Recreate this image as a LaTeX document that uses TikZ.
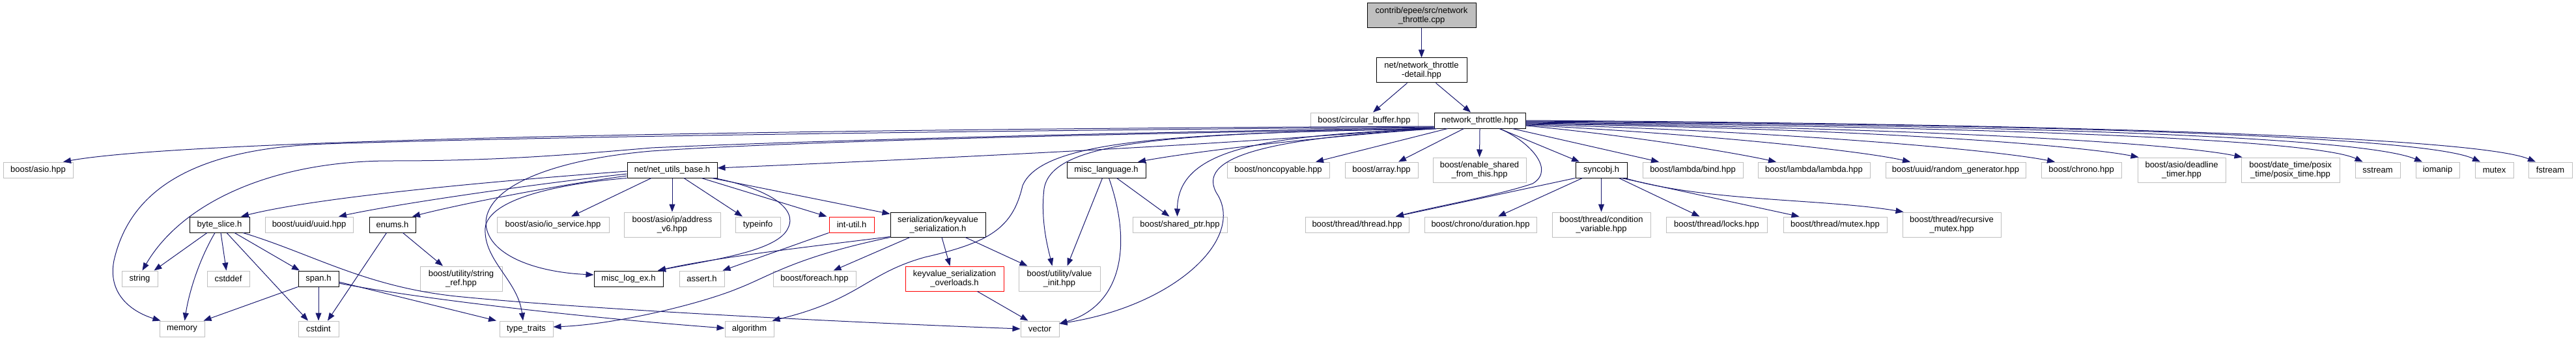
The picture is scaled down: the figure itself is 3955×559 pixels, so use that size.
\documentclass[tikz,border=0pt]{standalone}
\usepackage{fontspec}
\setmainfont{Liberation Sans}
\usetikzlibrary{arrows.meta}
\definecolor{edgeblue}{HTML}{191970}
\definecolor{grayline}{HTML}{BFBFBF}
\definecolor{rootfill}{HTML}{BFBFBF}
\tikzset{
  box/.style={draw, line width=1pt, inner sep=0pt, align=center, font=\fontsize{13}{14.5}\selectfont},
  hdr/.style={box, draw=black},
  ext/.style={box, draw=grayline},
  trunc/.style={box, draw=red},
  root/.style={box, draw=black, fill=rootfill},
  sz/.style 2 args={minimum width=#1pt, minimum height=#2pt},
  dep/.style={draw=edgeblue, line width=1pt, -{Triangle[length=12pt,width=9pt]}},
}
\begin{document}
\begin{tikzpicture}[x=1pt,y=-1pt]
\useasboundingbox (0,0) rectangle (3955,559);
% ---- nodes ----
\node[root, sz={167}{38}] (cpp) at (2182.5,24) {contrib/epee/src/network\\\_throttle.cpp};
\node[hdr, sz={139}{38}] (detail) at (2182.5,108) {net/network\_throttle\\-detail.hpp};
\node[ext, sz={165}{24}] (circbuf) at (2094.5,185) {boost/circular\_buffer.hpp};
\node[hdr, sz={140}{24}] (nthrottle) at (2272,185) {network\_throttle.hpp};
% row 3
\node[ext, sz={107}{24}] (asio) at (58.5,261) {boost/asio.hpp};
\node[hdr, sz={138}{24}] (netutils) at (1032,261) {net/net\_utils\_base.h};
\node[hdr, sz={121}{24}] (misclang) at (1698.5,261) {misc\_language.h};
\node[ext, sz={157}{24}] (noncopy) at (1962.5,261) {boost/noncopyable.hpp};
\node[ext, sz={112}{24}] (array) at (2121,261) {boost/array.hpp};
\node[ext, sz={143}{38}] (enable) at (2271.5,261) {boost/enable\_shared\\\_from\_this.hpp};
\node[hdr, sz={79}{24}] (syncobj) at (2458.5,261) {syncobj.h};
\node[ext, sz={154}{24}] (bind) at (2599,261) {boost/lambda/bind.hpp};
\node[ext, sz={172}{24}] (lambda) at (2785,261) {boost/lambda/lambda.hpp};
\node[ext, sz={215}{24}] (randgen) at (3002.5,261) {boost/uuid/random\_generator.hpp};
\node[ext, sz={123}{24}] (chrono) at (3195.5,261) {boost/chrono.hpp};
\node[ext, sz={135}{38}] (deadline) at (3349.5,261) {boost/asio/deadline\\\_timer.hpp};
\node[ext, sz={151}{38}] (posix) at (3516.5,261) {boost/date\_time/posix\\\_time/posix\_time.hpp};
\node[ext, sz={69}{24}] (sstream) at (3650.5,261) {sstream};
\node[ext, sz={67}{24}] (iomanip) at (3742.5,261) {iomanip};
\node[ext, sz={59}{24}] (mutexstd) at (3829.5,261) {mutex};
\node[ext, sz={67}{24}] (fstream) at (3915.5,261) {fstream};
% row 4
\node[hdr, sz={92}{24}] (byteslice) at (337,345) {byte\_slice.h};
\node[ext, sz={135}{24}] (uuid) at (474.5,345) {boost/uuid/uuid.hpp};
\node[hdr, sz={71}{24}] (enums) at (602.5,345) {enums.h};
\node[ext, sz={172}{24}] (ioservice) at (849,345) {boost/asio/io\_service.hpp};
\node[ext, sz={148}{38}] (addrv6) at (1032,345) {boost/asio/ip/address\\\_v6.hpp};
\node[ext, sz={69}{24}] (typeinfo) at (1163.5,345) {typeinfo};
\node[trunc, sz={69}{24}] (intutil) at (1307.5,345) {int-util.h};
\node[hdr, sz={146}{38}] (kvser) at (1440,345) {serialization/keyvalue\\\_serialization.h};
\node[ext, sz={145}{24}] (sharedptr) at (1811.5,345) {boost/shared\_ptr.hpp};
\node[ext, sz={159}{24}] (thread) at (2083.5,345) {boost/thread/thread.hpp};
\node[ext, sz={172}{24}] (duration) at (2273,345) {boost/chrono/duration.hpp};
\node[ext, sz={151}{38}] (condvar) at (2458.5,345) {boost/thread/condition\\\_variable.hpp};
\node[ext, sz={155}{24}] (locks) at (2635.5,345) {boost/thread/locks.hpp};
\node[ext, sz={159}{24}] (mutexhpp) at (2817.5,345) {boost/thread/mutex.hpp};
\node[ext, sz={151}{38}] (recmutex) at (2996.5,345) {boost/thread/recursive\\\_mutex.hpp};
% row 5
\node[ext, sz={55}{24}] (string) at (214.5,428) {string};
\node[ext, sz={65}{24}] (cstddef) at (350.5,428) {cstddef};
\node[hdr, sz={62}{24}] (span) at (489,428) {span.h};
\node[ext, sz={126}{38}] (stringref) at (708,428) {boost/utility/string\\\_ref.hpp};
\node[hdr, sz={106}{24}] (misclog) at (965,428) {misc\_log\_ex.h};
\node[ext, sz={69}{24}] (assert) at (1077.5,428) {assert.h};
\node[ext, sz={127}{24}] (foreach) at (1250.5,428) {boost/foreach.hpp};
\node[trunc, sz={151}{38}] (kvover) at (1465.5,428) {keyvalue\_serialization\\\_overloads.h};
\node[ext, sz={125}{38}] (valueinit) at (1626.5,428) {boost/utility/value\\\_init.hpp};
% row 6
\node[ext, sz={69}{24}] (memory) at (279.5,505) {memory};
\node[ext, sz={62}{24}] (cstdint) at (489,505) {cstdint};
\node[ext, sz={82}{24}] (typetraits) at (808,505) {type\_traits};
\node[ext, sz={75}{24}] (algorithm) at (1150.5,505) {algorithm};
\node[ext, sz={59}{24}] (vector) at (1596.5,505) {vector};

% ---- edges ----
\draw[dep] (cpp.south) -- (detail.north);
\draw[dep] ([xshift=-22pt]detail.south) -- ([xshift=13.5pt]circbuf.north);
\draw[dep] ([xshift=22pt]detail.south) -- ([xshift=-14pt]nthrottle.north);

% network_throttle.hpp, leftwards
\draw[dep] ([yshift=-9pt]nthrottle.west) .. controls (1300,198) and (300,212) .. ([xshift=38.5pt]asio.north);
\draw[dep] ([yshift=-10pt]nthrottle.west) .. controls (1600,200) and (900,208) .. (500,221)
   .. controls (300,228) and (200,290) .. (175,400)
   .. controls (165,450) and (200,478) .. ([xshift=2pt]memory.north west);
\draw[dep] ([yshift=-11pt]nthrottle.west) .. controls (1600,205) and (1150,220) .. (1000,227)
   .. controls (850,240) and (750,247) .. (600,247)
   .. controls (420,247) and (280,310) .. ([xshift=4pt]string.north);
\draw[dep] ([yshift=-10pt]nthrottle.west) .. controls (1900,222) and (1400,245) .. ([yshift=3pt]netutils.east);
\draw[dep] ([xshift=4pt]nthrottle.south west) .. controls (2050,208) and (1850,230) .. ([xshift=48.5pt]misclang.north);
\draw[dep] ([xshift=21pt]nthrottle.south west) -- ([xshift=57.5pt]noncopy.north);
\draw[dep] ([xshift=46pt]nthrottle.south west) -- ([xshift=26pt]array.north);
\draw[dep] (nthrottle.south) -- (enable.north);
\draw[dep] ([xshift=30pt]nthrottle.south) -- ([xshift=-33.5pt]syncobj.north);
\draw[dep] ([xshift=30pt]nthrottle.south) .. controls (2345,215) and (2390,260) .. (2353,282)
   .. controls (2300,300) and (2200,318) .. ([xshift=59.5pt]thread.north);
\draw[dep] ([xshift=2pt]nthrottle.south west) .. controls (1800,205) and (1615,215) .. (1603,290)
   .. controls (1597,340) and (1610,385) .. ([xshift=-11pt]valueinit.north);
\draw[dep] ([xshift=2pt]nthrottle.south west) .. controls (1950,208) and (1808,225) .. ([xshift=-4pt]sharedptr.north);
\draw[dep] ([xshift=3pt]nthrottle.south west) .. controls (1950,212) and (1830,240) .. (1870,300)
   .. controls (1910,370) and (1800,470) .. ([yshift=8pt]vector.east);
\draw[dep] ([xshift=3pt]nthrottle.south west) .. controls (1800,205) and (1600,215) .. (1570,285)
   .. controls (1555,350) and (1520,372) .. (1420,395)
   .. controls (1330,420) and (1320,460) .. ([xshift=-3pt]algorithm.north east);
\draw[dep] ([xshift=4pt]nthrottle.south west) .. controls (1700,205) and (1200,218) .. (1000,232)
   .. controls (850,245) and (750,285) .. (746,340)
   .. controls (745,390) and (820,418) .. ([yshift=6pt]misclog.west);

% network_throttle.hpp, rightwards
\draw[dep] ([xshift=50pt]nthrottle.south) -- ([xshift=-52pt]bind.north);
\draw[dep] ([yshift=-8pt]nthrottle.east) .. controls (2500,208) and (2650,232) .. ([xshift=-58pt]lambda.north);
\draw[dep] ([yshift=-7pt]nthrottle.east) .. controls (2600,205) and (2850,230) .. ([xshift=-69.5pt]randgen.north);
\draw[dep] ([yshift=-6pt]nthrottle.east) .. controls (2700,200) and (3050,228) .. ([xshift=-40.5pt]chrono.north);
\draw[dep] ([yshift=-5pt]nthrottle.east) .. controls (2900,198) and (3200,225) .. ([xshift=2pt]deadline.north west);
\draw[dep] ([yshift=-4pt]nthrottle.east) .. controls (3000,197) and (3350,222) .. ([xshift=2pt]posix.north west);
\draw[dep] ([yshift=-3pt]nthrottle.east) .. controls (3000,194) and (3550,212) .. ([xshift=-23pt]sstream.north);
\draw[dep] ([yshift=-2pt]nthrottle.east) .. controls (3050,192) and (3620,208) .. ([xshift=-23.5pt]iomanip.north);
\draw[dep] ([yshift=-1pt]nthrottle.east) .. controls (3100,190) and (3720,208) .. ([xshift=-21.5pt]mutexstd.north);
\draw[dep] (nthrottle.east) .. controls (3150,190) and (3800,210) .. ([xshift=-22.5pt]fstream.north);

% net_utils_base.h
\draw[dep] ([yshift=-2pt]netutils.west) .. controls (800,275) and (500,300) .. ([xshift=33pt]byteslice.north);
\draw[dep] ([yshift=-6pt]netutils.west) .. controls (800,285) and (600,315) .. ([xshift=45.5pt]uuid.north);
\draw[dep] ([yshift=-9pt]netutils.west) .. controls (850,285) and (700,315) .. ([xshift=30.5pt]enums.north);
\draw[dep] ([xshift=-32pt]netutils.south) -- ([xshift=28pt]ioservice.north);
\draw[dep] (netutils.south) -- (addrv6.north);
\draw[dep] ([xshift=18pt]netutils.south) -- ([xshift=-23.5pt]typeinfo.north);
\draw[dep] ([xshift=45pt]netutils.south) -- ([xshift=-3pt]intutil.north west);
\draw[dep] ([xshift=61pt]netutils.south) -- ([yshift=-3pt]kvser.north west);
\draw[dep] ([xshift=65pt]netutils.south) .. controls (1180,290) and (1225,320) .. (1210,350)
   .. controls (1195,385) and (1100,398) .. ([xshift=45pt]misclog.north);
\draw[dep] (netutils.south west) .. controls (860,282) and (750,305) .. (745,350)
   .. controls (742,400) and (795,430) .. ([xshift=-5pt]typetraits.north);

% serialization/keyvalue_serialization.h
\draw[dep] ([yshift=1pt]kvser.south west) .. controls (1250,378) and (1100,395) .. ([xshift=45pt]misclog.north);
\draw[dep] (kvser.south west) .. controls (1220,395) and (1180,425) .. (1133,443)
   .. controls (1080,465) and (950,498) .. ([yshift=3pt]typetraits.east);
\draw[dep] ([xshift=-43pt]kvser.south) -- ([xshift=29pt]foreach.north);
\draw[dep] ([xshift=6pt]kvser.south) -- ([xshift=-7pt]kvover.north);
\draw[dep] ([xshift=42pt]kvser.south) -- ([xshift=-49pt]valueinit.north);
\draw[dep] ([xshift=35pt]kvover.south) -- ([xshift=-18pt]vector.north);

% misc_language.h
\draw[dep] ([xshift=-6pt]misclang.south) -- ([xshift=12pt]valueinit.north);
\draw[dep] ([xshift=4pt]misclang.south) .. controls (1740,380) and (1720,470) .. ([yshift=8pt]vector.east);
\draw[dep] ([xshift=16pt]misclang.south) -- ([xshift=-16pt]sharedptr.north);

% byte_slice.h
\draw[dep] ([xshift=-19pt]byteslice.south) -- ([xshift=22pt]string.north);
\draw[dep] ([xshift=-7pt]byteslice.south) .. controls (305,400) and (290,450) .. ([xshift=4pt]memory.north);
\draw[dep] ([xshift=2pt]byteslice.south) -- ([xshift=-3pt]cstddef.north);
\draw[dep] ([xshift=11pt]byteslice.south) -- ([xshift=-16pt]cstdint.north);
\draw[dep] ([xshift=23pt]byteslice.south) -- ([xshift=-29pt]span.north);
\draw[dep] ([xshift=36pt]byteslice.south) .. controls (480,390) and (560,440) .. (700,455)
   .. controls (900,475) and (1300,495) .. (vector.west);

% span.h
\draw[dep] (span.south west) -- ([xshift=33pt]memory.north);
\draw[dep] (span.south) -- (cstdint.north);
\draw[dep] ([yshift=-5pt]span.east) -- ([xshift=-46pt]typetraits.north);
\draw[dep] ([yshift=-7pt]span.east) .. controls (650,460) and (900,488) .. ([yshift=1pt]algorithm.west);

% enums.h
\draw[dep] ([xshift=-9pt]enums.south) -- ([xshift=14pt]cstdint.north);
\draw[dep] ([xshift=16pt]enums.south) -- ([xshift=-28pt]stringref.north);

% int-util.h
\draw[dep] (intutil.south west) -- ([xshift=32pt]assert.north);

% syncobj.h
\draw[dep] (syncobj.south west) -- ([xshift=59.5pt]thread.north);
\draw[dep] ([xshift=-29pt]syncobj.south) -- ([xshift=27pt]duration.north);
\draw[dep] (syncobj.south) -- (condvar.north);
\draw[dep] ([xshift=27pt]syncobj.south) -- ([xshift=-26pt]locks.north);
\draw[dep] ([xshift=31pt]syncobj.south) -- ([xshift=-55pt]mutexhpp.north);
\draw[dep] ([xshift=36pt]syncobj.south) .. controls (2620,310) and (2800,305) .. ([xshift=2pt]recmutex.north west);
\end{tikzpicture}
\end{document}
